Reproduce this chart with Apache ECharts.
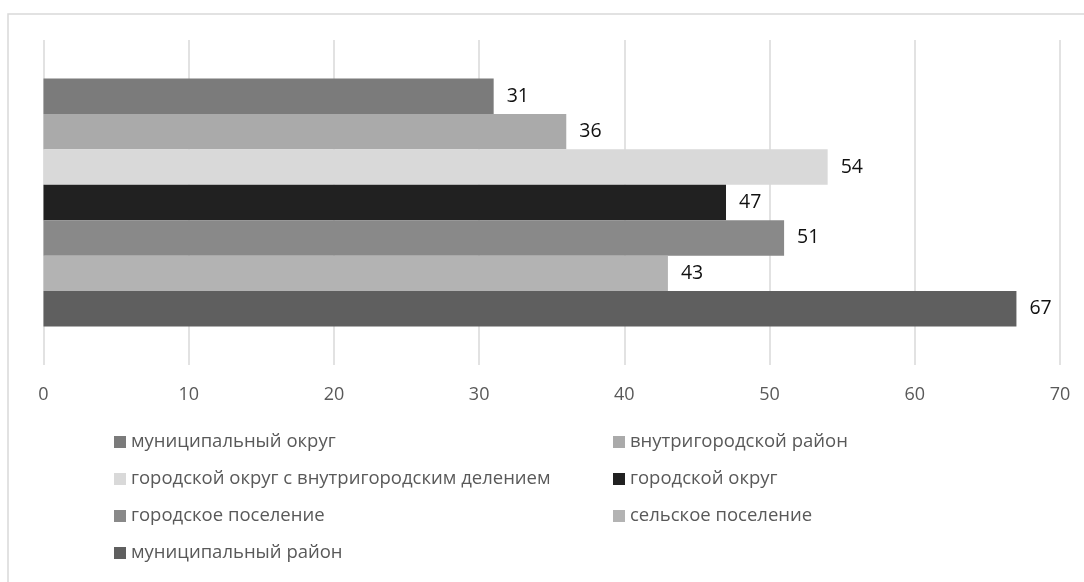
<!DOCTYPE html>
<html>
<head>
<meta charset="utf-8">
<script src="https://cdn.jsdelivr.net/npm/echarts@6/dist/echarts.min.js"></script>
<style>html,body{margin:0;padding:0;background:#fff}#c{width:1084px;height:582px}</style>
</head>
<body>
<div id="c"></div>
<script>
const seriesNames = ['муниципальный округ','внутригородской район','городской округ с внутригородским делением','городской округ','городское поселение','сельское поселение','муниципальный район'];
const seriesValues = [31, 36, 54, 47, 51, 43, 67];
const seriesColors = ['#7b7b7b','#aaaaaa','#d9d9d9','#212121','#898989','#b3b3b3','#5f5f5f'];
const xTicks = [0, 10, 20, 30, 40, 50, 60, 70];

const FONT = '"Open Sans", "Noto Sans", sans-serif';
const chart = echarts.init(document.getElementById('c'));
const series = seriesNames.map((n, i) => ({
  name: n, type: 'bar', data: [seriesValues[i]],
  itemStyle: { color: seriesColors[i] },
  barGap: '0%', barCategoryGap: '23.7%',
  label: { show: true, position: 'right', distance: 13, color: '#111', fontSize: 19.5, fontFamily: FONT },
  animation: false
}));
const leftNames = seriesNames.filter((_, i) => i % 2 === 0);
const rightNames = seriesNames.filter((_, i) => i % 2 === 1);
const legendCommon = {
  orient: 'vertical', itemWidth: 12, itemHeight: 12, itemGap: 17, icon: 'rect',
  textStyle: { color: '#595959', fontSize: 18.5, lineHeight: 20, fontFamily: FONT }
};
chart.setOption({
  animation: false,
  graphic: [{ type: 'rect', shape: { x: 8, y: 14, width: 1200, height: 700 }, style: { fill: 'none', stroke: '#d9d9d9', lineWidth: 1.5 }, silent: true }],
  grid: { left: 43.5, right: 24, top: 40, bottom: 217 },
  xAxis: {
    type: 'value', min: xTicks[0], max: xTicks[xTicks.length - 1], interval: 10,
    axisLine: { show: false }, axisTick: { show: false },
    splitLine: { lineStyle: { color: '#d9d9d9', width: 1.5 } },
    axisLabel: { color: '#595959', fontSize: 18, fontFamily: FONT, margin: 21 }
  },
  yAxis: { type: 'category', data: [''], inverse: true, axisLine: { show: false }, axisTick: { show: false }, axisLabel: { show: false } },
  legend: [
    Object.assign({ left: 109, top: 427, data: leftNames }, legendCommon),
    Object.assign({ left: 608, top: 427, data: rightNames }, legendCommon)
  ],
  series: series
});
</script>
</body>
</html>
